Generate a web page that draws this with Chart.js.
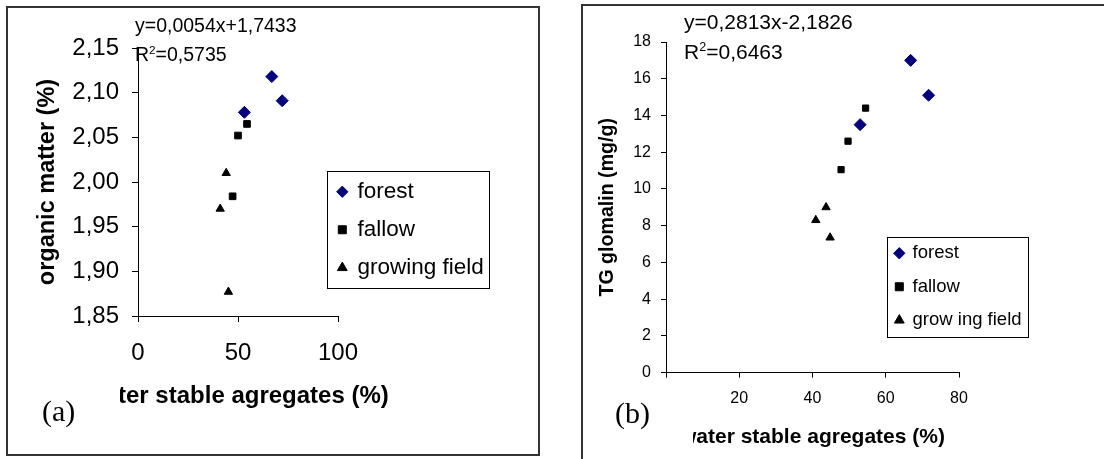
<!DOCTYPE html>
<html>

<head>
  <title>Organic matter and glomalin vs water stable aggregates</title>
  <script src="https://cdn.jsdelivr.net/npm/chart.js"></script>
  <style>
    body {
      margin: 0;
      width: 1104px;
      height: 459px;
      overflow: hidden;
      background-color: #fff;
      position: relative;
      font-family: 'Liberation Sans', Arial, sans-serif;
      color: #000;
    }

    .panel {
      position: absolute;
      box-sizing: border-box;
      border: 2px solid #333;
    }

    #panelA {
      left: 6px;
      top: 6px;
      width: 534px;
      height: 450px;
    }

    #panelB {
      left: 581px;
      top: 4px;
      width: 540px;
      height: 470px;
      border-right: none;
      border-bottom: none;
    }

    .chartBox {
      position: absolute;
    }

    #boxA {
      left: 7px;
      top: 7px;
      width: 532px;
      height: 447px;
    }

    #boxB {
      left: 582px;
      top: 6px;
      width: 522px;
      height: 453px;
    }

    .eq {
      position: absolute;
      line-height: 1;
      white-space: nowrap;
    }

    .eq sup {
      font-size: 0.6em;
      line-height: 0;
    }

    .xtitle {
      position: absolute;
      line-height: 1;
      white-space: nowrap;
      font-weight: bold;
    }

    .cover {
      position: absolute;
      background-color: #fff;
    }

    .tag {
      position: absolute;
      font-family: 'Liberation Serif', 'Times New Roman', serif;
      font-size: 30px;
      line-height: 1;
    }
  </style>
</head>

<body>
  <div class="panel" id="panelA"></div>
  <div class="panel" id="panelB"></div>

  <div class="chartBox" id="boxA"><canvas id="chartA"></canvas></div>
  <div class="chartBox" id="boxB"><canvas id="chartB"></canvas></div>

  <div class="eq" style="left:135px; top:16px; font-size:19.5px;">y=0,0054x+1,7433</div>
  <div class="eq" style="left:135px; top:45px; font-size:19.5px;">R<sup>2</sup>=0,5735</div>
  <div class="eq" style="left:684px; top:11px; font-size:21px;">y=0,2813x-2,1826</div>
  <div class="eq" style="left:684px; top:41px; font-size:21px;">R<sup>2</sup>=0,6463</div>

  <div class="xtitle" style="left:86px; top:383px; font-size:24px;">water stable agregates (%)</div>
  <div class="xtitle" style="left:680px; top:425px; font-size:21px;">water stable agregates (%)</div>

  <!-- the (a)/(b) text boxes sit over the start of the axis titles, as in the source figure -->
  <div class="cover" style="left:36px; top:381px; width:84px; height:58px;"></div>
  <div class="tag" style="left:42px; top:396px;">(a)</div>
  <div class="cover" style="left:608px; top:398px; width:85px; height:56px;"></div>
  <div class="tag" style="left:615px; top:398px;">(b)</div>

  <script>
    // (a) organic matter vs water stable aggregates
    const omForestX = [53.2, 66.9, 72.1];
    const omForestY = [2.078, 2.118, 2.091];
    const omFallowX = [50.0, 54.5, 47.3];
    const omFallowY = [2.052, 2.065, 1.984];
    const omGrowX = [44.1, 41.1, 45.2];
    const omGrowY = [2.010, 1.970, 1.877];

    // (b) TG glomalin vs water stable aggregates
    const tgForestX = [53.0, 66.8, 71.7];
    const tgForestY = [13.5, 17.0, 15.1];
    const tgFallowX = [47.8, 49.7, 54.5];
    const tgFallowY = [11.05, 12.6, 14.4];
    const tgGrowX = [40.9, 43.7, 44.8];
    const tgGrowY = [8.3, 9.0, 7.35];

    const labelsA = ['forest', 'fallow', 'growing field'];
    const labelsB = ['forest', 'fallow', 'grow ing field'];

    Chart.defaults.font.family = "'Liberation Sans', Arial, sans-serif";
    Chart.defaults.color = '#000';

    function pts(xs, ys) {
      return xs.map((x, i) => ({ x: x, y: ys[i] }));
    }

    // moves the legend to a fixed spot and draws a frame round it
    const legendBox = {
      id: 'legendBox',
      afterLayout(chart, args, opts) {
        const lg = chart.legend;
        lg.left = opts.x;
        lg.top = opts.y;
        lg.right = opts.x + lg.width + 30;
        lg.bottom = opts.y + lg.height + 30;
      },
      afterDraw(chart, args, opts) {
        const ctx = chart.ctx;
        ctx.save();
        ctx.strokeStyle = '#000';
        ctx.lineWidth = 1;
        ctx.strokeRect(opts.bx + 0.5, opts.by + 0.5, opts.bw, opts.bh);
        ctx.restore();
      }
    };

    function makeDatasets(labels, sets, sizes) {
      const styles = [
        { pointStyle: 'rectRot', color: '#000080' },
        { pointStyle: 'rect', color: '#000' },
        { pointStyle: 'triangle', color: '#000' }
      ];
      return sets.map((d, i) => ({
        label: labels[i],
        data: d,
        pointStyle: styles[i].pointStyle,
        backgroundColor: styles[i].color,
        borderColor: styles[i].color,
        borderWidth: 1,
        pointRadius: sizes[i],
        pointHoverRadius: sizes[i]
      }));
    }

    function axis(o) {
      return {
        type: 'linear',
        min: o.min,
        max: o.max,
        afterFit: o.fit,
        border: { display: true, color: '#000', width: 1 },
        grid: { display: true, drawOnChartArea: false, drawTicks: true, tickLength: o.tick, color: '#000' },
        ticks: {
          stepSize: o.step,
          padding: o.pad,
          font: { size: o.fontSize },
          color: '#000',
          callback: o.cb
        },
        title: {
          display: !!o.title,
          text: o.title || '',
          padding: 0,
          font: { size: o.titleSize, weight: 'bold' },
          color: '#000'
        }
      };
    }

    new Chart(document.getElementById('chartA'), {
      type: 'scatter',
      data: {
        datasets: makeDatasets(labelsA, [pts(omForestX, omForestY), pts(omFallowX, omFallowY), pts(omGrowX, omGrowY)], [6, 4.7, 4.8])
      },
      options: {
        responsive: true,
        maintainAspectRatio: false,
        animation: false,
        events: [],
        layout: { padding: { left: 26, top: 41, right: 201, bottom: 45 } },
        scales: {
          x: axis({
            min: 0, max: 100, step: 50, pad: 17, fontSize: 24, tick: 6,
            fit: (s) => { s.height = 93; },
            cb: (v) => v
          }),
          y: axis({
            min: 1.85, max: 2.15, step: 0.05, pad: 13, fontSize: 24, tick: 6,
            title: 'organic matter (%)', titleSize: 23.5,
            fit: (s) => { s.width = 105; },
            cb: (v) => v.toFixed(2).replace('.', ',')
          })
        },
        plugins: {
          tooltip: { enabled: false },
          legend: {
            position: 'chartArea',
            align: 'start',
            labels: { usePointStyle: true, boxWidth: 8, boxHeight: 8, padding: 15.5, font: { size: 22.5 }, color: '#000' }
          },
          legendBox: { x: 315.8, y: 158, bx: 320, by: 164, bw: 162, bh: 117 }
        }
      },
      plugins: [legendBox]
    });

    new Chart(document.getElementById('chartB'), {
      type: 'scatter',
      data: {
        datasets: makeDatasets(labelsB, [pts(tgForestX, tgForestY), pts(tgFallowX, tgFallowY), pts(tgGrowX, tgGrowY)], [6, 4.4, 4.8])
      },
      options: {
        responsive: true,
        maintainAspectRatio: false,
        animation: false,
        events: [],
        layout: { padding: { left: 14, top: 36, right: 145, bottom: 9.4 } },
        scales: {
          x: axis({
            min: 0, max: 80, step: 20, pad: 11, fontSize: 16, tick: 5,
            fit: (s) => { s.height = 77; },
            cb: (v) => v === 0 ? '' : v
          }),
          y: axis({
            min: 0, max: 18, step: 2, pad: 10, fontSize: 16, tick: 5,
            title: 'TG glomalin (mg/g)', titleSize: 19.6,
            fit: (s) => { s.width = 70; },
            cb: (v) => v
          })
        },
        plugins: {
          tooltip: { enabled: false },
          legend: {
            position: 'chartArea',
            align: 'start',
            labels: { usePointStyle: true, boxWidth: 8, boxHeight: 8, padding: 15, font: { size: 18.5 }, color: '#000' }
          },
          legendBox: { x: 298.3, y: 223, bx: 305, by: 231, bw: 141, bh: 100 }
        }
      },
      plugins: [legendBox]
    });
  </script>
</body>

</html>
